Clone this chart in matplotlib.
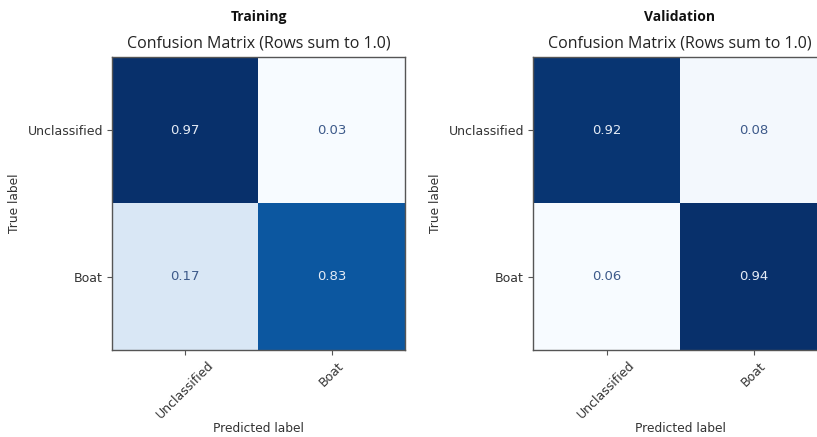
import matplotlib
matplotlib.use("Agg")
import matplotlib.pyplot as plt
import numpy as np

# Normalised confusion matrices (rows sum to 1.0)
class_names = ["Unclassified", "Boat"]
train_cm = [[0.97, 0.03],
            [0.17, 0.83]]
val_cm = [[0.92, 0.08],
          [0.06, 0.94]]
panel_titles = ["Training", "Validation"]

W, H = 817, 437
fig = plt.figure(figsize=(W / 100, H / 100), dpi=100)
fig.patch.set_facecolor("white")


def px_axes(left, top, width, height):
    return fig.add_axes([left / W, 1 - (top + height) / H, width / W, height / H])


def draw_cm(ax, cm, title):
    cm = np.asarray(cm)
    ax.imshow(cm, interpolation="nearest", cmap=plt.cm.Blues, aspect="auto")
    thresh = cm.max() / 2.0
    for i in range(cm.shape[0]):
        for j in range(cm.shape[1]):
            ax.text(j, i, f"{cm[i, j]:.2f}", ha="center", va="center",
                    fontsize=9.5,
                    color="#e4ebf5" if cm[i, j] > thresh else "#3d5a8a")
    ticks = np.arange(len(class_names))
    ax.set_xticks(ticks)
    ax.set_xticklabels(class_names, rotation=45, ha="center",
                       fontsize=9, color="#333333")
    ax.set_yticks(ticks)
    ax.set_yticklabels(class_names, fontsize=9, color="#333333")
    ax.tick_params(length=3.5, color="#555555", pad=3)
    for sp in ax.spines.values():
        sp.set_color("#555555")
        sp.set_linewidth(1.0)
    ax.set_ylabel("True label", fontsize=8.8, color="#333333", labelpad=5)
    ax.set_xlabel("Predicted label", fontsize=8.8, color="#333333", labelpad=0.5)
    ax.set_title("Confusion Matrix (Rows sum to 1.0)", fontsize=11.5,
                 family="Open Sans", color="#222222", pad=7)
    ax.text(0.5, 1.0 + 40 / 293, title, transform=ax.transAxes,
            ha="center", va="center", fontsize=10, fontweight="bold",
            family="Open Sans", color="#111111")


ax_train = px_axes(112, 57, 293, 293)
ax_val = px_axes(533, 57, 294, 293)
draw_cm(ax_train, train_cm, panel_titles[0])
draw_cm(ax_val, val_cm, panel_titles[1])

fig.savefig("out.png", dpi=100)
